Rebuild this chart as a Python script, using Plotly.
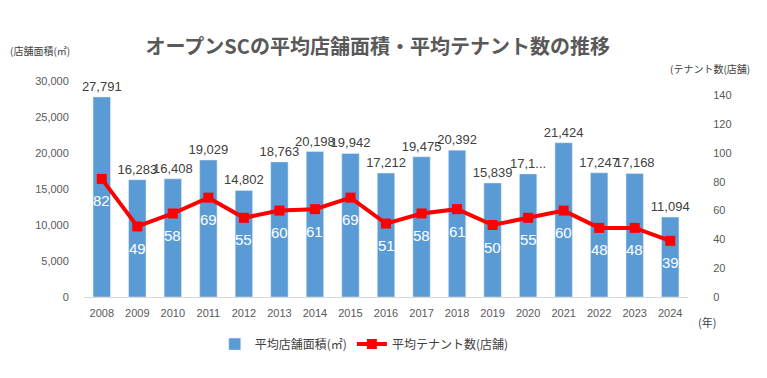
import plotly.graph_objects as go

years = [str(y) for y in range(2008, 2025)]
area = [27791, 16283, 16408, 19029, 14802, 18763, 20198, 19942, 17212, 19475,
        20392, 15839, 17100, 21424, 17247, 17168, 11094]
area_labels = ["27,791", "16,283", "16,408", "19,029", "14,802", "18,763", "20,198", "19,942",
               "17,212", "19,475", "20,392", "15,839", "17,1...", "21,424", "17,247", "17,168", "11,094"]
tenants = [82, 49, 58, 69, 55, 60, 61, 69, 51, 58, 61, 50, 55, 60, 48, 48, 39]

FONT = "Noto Sans CJK JP"
fig = go.Figure()
fig.add_trace(go.Bar(
    x=years, y=area, name="平均店舗面積(㎡)", marker_color="#5B9BD5",
    text=area_labels, textposition="outside", cliponaxis=False, constraintext="none",
    textfont=dict(size=13, color="#404040", family="Liberation Sans"),
    width=0.49,
))
fig.add_trace(go.Scatter(
    x=years, y=tenants, name="平均テナント数(店舗)", yaxis="y2",
    mode="lines+markers", line=dict(color="#FF0000", width=4),
    marker=dict(symbol="square", size=10, color="#FF0000"),
))
for i, v in enumerate(tenants):
    fig.add_annotation(x=i, y=v, xref="x", yref="y2", text=str(v), showarrow=False,
                       yshift=-22, font=dict(size=15, color="white", family="Liberation Sans"))

fig.update_layout(
    width=767, height=378,
    margin=dict(l=76, r=87, t=73, b=89, autoexpand=False),
    paper_bgcolor="white", plot_bgcolor="white",
    title=dict(text="<b>オープンSCの平均店舗面積・平均テナント数の推移</b>",
               x=0.482, xanchor="center", y=0.897, yanchor="middle",
               font=dict(size=20, color="#595959", family=FONT)),
    font=dict(family="Liberation Sans", color="#595959", size=11),
    xaxis=dict(type="category", range=[-0.5, 16.5], showline=True, linecolor="#D9D9D9",
               ticks="outside", ticklen=6, tickcolor="rgba(0,0,0,0)",
               automargin=False, tickfont=dict(size=11, color="#595959")),
    yaxis=dict(range=[0, 30000], dtick=5000, tickformat=",", showgrid=False,
               zeroline=False, tickfont=dict(size=11, color="#595959"), ticklen=12,
               ticks="outside", tickcolor="rgba(0,0,0,0)", automargin=False),
    yaxis2=dict(range=[0, 150], tickvals=[0, 20, 40, 60, 80, 100, 120, 140],
                overlaying="y", side="right", showgrid=False,
                zeroline=False, tickfont=dict(size=11, color="#595959"), ticks="outside",
                tickcolor="rgba(0,0,0,0)", ticklen=22, automargin=False),
    legend=dict(orientation="h", x=0.464, xanchor="center", y=-0.218, yanchor="middle",
                font=dict(size=12, color="#404040", family=FONT)),
    showlegend=True,
)
fig.add_annotation(text="(店舗面積(㎡)", xref="paper", yref="paper", x=-0.1258, y=1.143,
                   xanchor="left", yanchor="middle", showarrow=False,
                   font=dict(size=10, color="#404040", family=FONT))
fig.add_annotation(text="(テナント数(店舗)", xref="paper", yref="paper", x=1.106, y=1.06,
                   xanchor="right", yanchor="middle", showarrow=False,
                   font=dict(size=10, color="#404040", family=FONT))
fig.add_annotation(text="(年)", xref="paper", yref="paper", x=1.031, y=-0.116,
                   xanchor="center", yanchor="middle", showarrow=False,
                   font=dict(size=11, color="#404040", family=FONT))
fig.write_html("out.html")
